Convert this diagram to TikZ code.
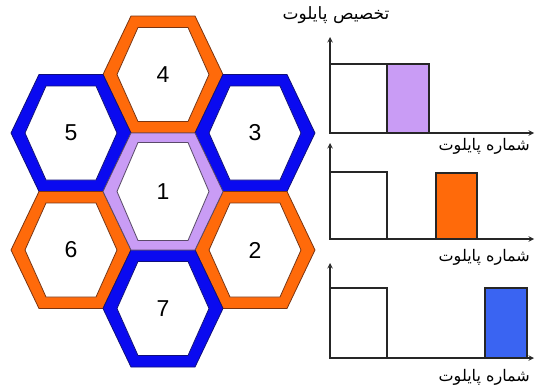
\documentclass[tikz,border=0pt]{standalone}
\usepackage{fontspec}
\setmainfont{Liberation Sans}
\newfontfamily\arabicfont[Script=Arabic]{DejaVu Sans}
\TeXXeTstate=1
\definecolor{cellorange}{HTML}{FF6A0A}
\definecolor{celledgeo}{HTML}{7A3410}
\definecolor{cellblue}{HTML}{0A0AF0}
\definecolor{celledgeb}{HTML}{10107A}
\definecolor{celllav}{HTML}{C99CF5}
\definecolor{celledgel}{HTML}{5A4A6A}
\definecolor{barblue}{HTML}{3A64F2}
\tikzset{
  cellnum/.style={font=\fontsize{23}{26}\selectfont, inner sep=0pt},
  faxis/.style={->, line width=1.4pt, black!85},
  fbox/.style={line width=1.3pt, draw=black!85},
  flabel/.style={font=\arabicfont\fontsize{16}{18}\selectfont, inner sep=0pt}
}
% one ring of the cluster: name, centre, fill, edge, number, inner half height
\newcommand{\hexcell}[6]{%
  \begin{scope}[shift={#2}]
    \draw[draw=#4, fill=#3, line width=0.8pt] (-60,0) -- (-32,-58.5) -- (32,-58.5) -- (60,0) -- (32,58.5) -- (-32,58.5) -- cycle;
    \draw[draw=#4, fill=white, line width=0.8pt] (-46,0) -- (-25,-#6) -- (25,-#6) -- (46,0) -- (25,#6) -- (-25,#6) -- cycle;
    \node[cellnum] (#1) at (0,0) {#5};
  \end{scope}}
\begin{document}
\begin{tikzpicture}[>=stealth, x=1pt, y=-1pt]
		\useasboundingbox (0,0) rectangle (535,388);
		
		% Cluster
		\hexcell{c4}{(163,74.5)}{cellorange}{celledgeo}{4}{47}
		\hexcell{c5}{(71,133)}{cellblue}{celledgeb}{5}{47}
		\hexcell{c3}{(255,133)}{cellblue}{celledgeb}{3}{47}
		\hexcell{c6}{(71,250)}{cellorange}{celledgeo}{6}{47}
		\hexcell{c2}{(255,250)}{cellorange}{celledgeo}{2}{47}
		\hexcell{c7}{(163,308.5)}{cellblue}{celledgeb}{7}{47}
		\hexcell{c1}{(163,191.5)}{celllav}{celledgel}{1}{49}
		
		% Pilot charts
		\coordinate (o1) at (330,133);
		\coordinate (y1) at (330,37);
		\coordinate (x1) at (534,133);
		\coordinate (o2) at (330,239);
		\coordinate (y2) at (330,143);
		\coordinate (x2) at (534,239);
		\coordinate (o3) at (330,358);
		\coordinate (y3) at (330,263);
		\coordinate (x3) at (534,358);
		
		\draw[fbox, fill=white] (o1) rectangle (387,64);
		\draw[fbox, fill=celllav] (387,133) rectangle (429,64);
		\draw[fbox, fill=white] (o2) rectangle (387,172);
		\draw[fbox, fill=cellorange] (436,239) rectangle (477,173);
		\draw[fbox, fill=white] (o3) rectangle (387,288);
		\draw[fbox, fill=barblue] (485,358) rectangle (527,288);
		
		\draw[faxis] (o1) -- (y1);
		\draw[faxis] (o1) -- (x1);
		\draw[faxis] (o2) -- (y2);
		\draw[faxis] (o2) -- (x2);
		\draw[faxis] (o3) -- (y3);
		\draw[faxis] (o3) -- (x3);
		
		\node[flabel, font=\arabicfont\fontsize{17}{19}\selectfont] (alloc) at (336,15) {\beginR تخصیص پایلوت\endR};
		\node[flabel, anchor=east] (num1) at (530,146) {\beginR شماره پایلوت\endR};
		\node[flabel, anchor=east] (num2) at (530,257) {\beginR شماره پایلوت\endR};
		\node[flabel, anchor=east] (num3) at (530,377) {\beginR شماره پایلوت\endR};
	\end{tikzpicture}
\end{document}
